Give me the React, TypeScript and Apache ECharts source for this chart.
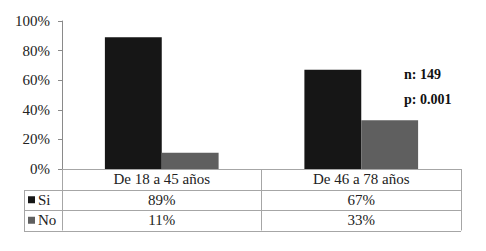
import React, { useEffect, useRef } from "react";
import * as echarts from "echarts";

const categories = ["De 18 a 45 años", "De 46 a 78 años"];
const siValues = [0.89, 0.67];
const noValues = [0.11, 0.33];
const seriesNames = ["Si", "No"];
const yTicks = [0, 0.2, 0.4, 0.6, 0.8, 1];
const notes = ["n: 149", "p: 0.001"];

const FONT = "Liberation Serif";
const GRID = { left: 62, right: 25, top: 21, bottom: 82 };
const LINE = "#a6a6a6";

const pct = (v: number) => `${Math.round(v * 100)}%`;

export default function App() {
  const ref = useRef<HTMLDivElement>(null);
  useEffect(() => {
    if (!ref.current) return;
    const chart = echarts.init(ref.current, undefined, { renderer: "svg" });
    const W = 486;
    const x0 = 24;
    const xr = W - GRID.right;
    const y0 = 251 - GRID.bottom;
    const rowH = 20.5;
    const hLine = (y: number, x1: number) => ({
      type: "line",
      shape: { x1, y1: y, x2: xr, y2: y },
      style: { stroke: LINE, lineWidth: 1 },
      silent: true,
    });
    chart.setOption({
      animation: false,
      textStyle: { fontFamily: FONT },
      grid: { ...GRID },
      legend: {
        data: seriesNames,
        orient: "vertical",
        left: 28,
        top: y0 + rowH,
        icon: "rect",
        itemWidth: 7,
        itemHeight: 7,
        itemGap: 0,
        selectedMode: false,
        padding: 0,
        textStyle: { fontFamily: FONT, fontSize: 15, color: "#222", lineHeight: rowH, padding: [0, 0, 0, -2] },
      },
      xAxis: {
        type: "category",
        data: categories,
        axisLine: { show: true, lineStyle: { color: LINE } },
        axisTick: { show: true, length: rowH * 3, lineStyle: { color: LINE } },
        axisLabel: {
          margin: 0,
          interval: 0,
          formatter: (v: string) => {
            const i = categories.indexOf(v);
            return `${v}\n${pct(siValues[i])}\n${pct(noValues[i])}`;
          },
          fontFamily: FONT,
          fontSize: 15,
          color: "#222",
          lineHeight: rowH,
        },
      },
      yAxis: {
        type: "value",
        min: yTicks[0],
        max: yTicks[yTicks.length - 1],
        interval: 0.2,
        axisLine: { show: true, lineStyle: { color: "#8a8a8a" } },
        axisTick: { show: true, length: 4, lineStyle: { color: "#8a8a8a" } },
        splitLine: { show: false },
        axisLabel: {
          formatter: (v: number) => pct(v),
          fontFamily: FONT,
          fontSize: 15,
          color: "#222",
          margin: 12,
        },
      },
      series: [
        {
          name: seriesNames[0],
          type: "bar",
          data: siValues,
          itemStyle: { color: "#161616" },
          barGap: "0%",
          barCategoryGap: "43%",
        },
        {
          name: seriesNames[1],
          type: "bar",
          data: noValues,
          itemStyle: { color: "#5f5f5f" },
          barGap: "0%",
          barCategoryGap: "43%",
        },
      ],
      graphic: [
        hLine(Math.round(y0 + rowH) + 0.5, x0),
        hLine(Math.round(y0 + rowH * 2) + 0.5, x0),
        hLine(Math.round(y0 + rowH * 3) + 0.5, x0),
        {
          type: "line",
          shape: { x1: x0 + 0.5, y1: Math.round(y0 + rowH) + 0.5, x2: x0 + 0.5, y2: Math.round(y0 + rowH * 3) + 0.5 },
          style: { stroke: LINE, lineWidth: 1 },
          silent: true,
        },
        {
          type: "text",
          left: 404,
          top: 67,
          style: { text: notes[0], fontFamily: FONT, fontWeight: "bold", fontSize: 14, fill: "#111" },
        },
        {
          type: "text",
          left: 404,
          top: 92,
          style: { text: notes[1], fontFamily: FONT, fontWeight: "bold", fontSize: 14, fill: "#111" },
        },
      ],
    });
    return () => chart.dispose();
  }, []);
  return (
    <div
      ref={ref}
      style={{ position: "fixed", left: 0, top: 0, width: 486, height: 251, background: "#fff" }}
    />
  );
}
